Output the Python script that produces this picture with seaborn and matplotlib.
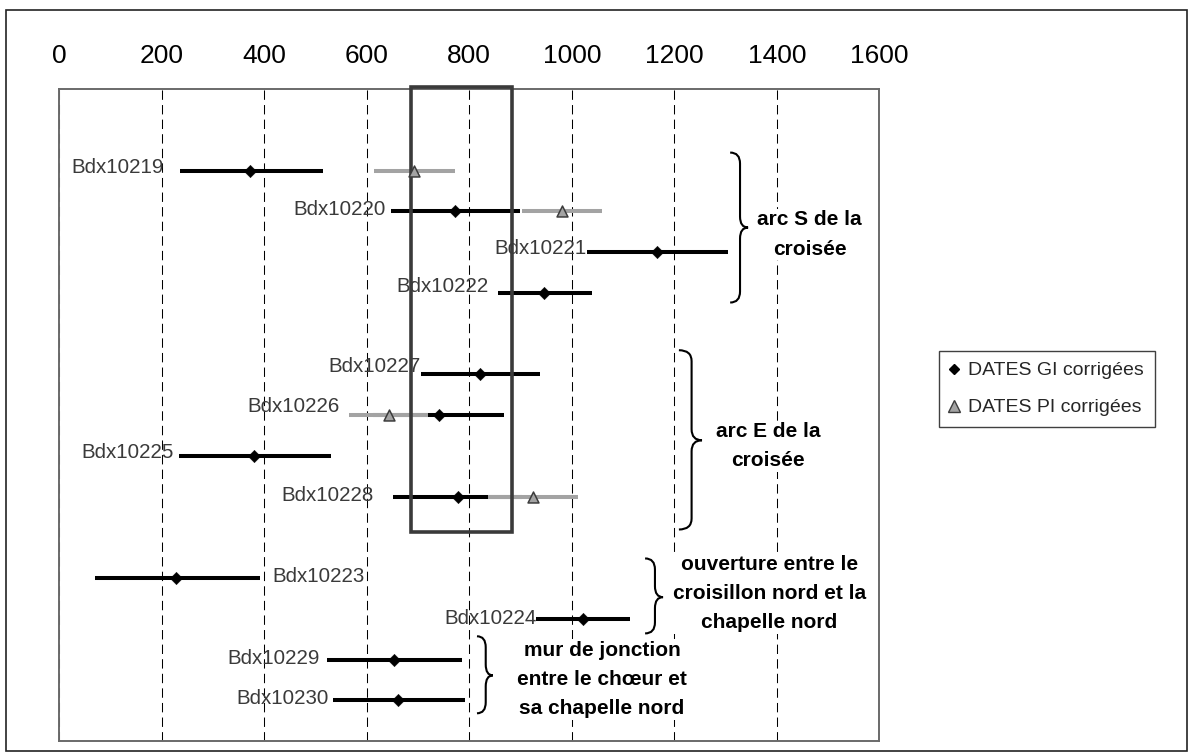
import matplotlib
matplotlib.use("Agg")
import matplotlib.pyplot as plt
import seaborn as sns
import pandas as pd
from matplotlib.path import Path
from matplotlib.patches import PathPatch, Rectangle
from matplotlib.lines import Line2D

# ---------------- data ----------------
samples = ["Bdx10219", "Bdx10220", "Bdx10221", "Bdx10222",
           "Bdx10227", "Bdx10226", "Bdx10225", "Bdx10228",
           "Bdx10223", "Bdx10224", "Bdx10229", "Bdx10230"]
rows = [0, 1, 2, 3, 5, 6, 7, 8, 10, 11, 12, 13]
gi_date = [373, 773, 1166, 946, 821, 740, 379, 777, 228, 1022, 653, 661]
gi_low = [235, 647, 1030, 856, 706, 612, 233, 651, 70, 931, 523, 534]
gi_high = [515, 899, 1305, 1039, 938, 868, 530, 903, 392, 1114, 786, 792]

pi_samples = ["Bdx10219", "Bdx10220", "Bdx10226", "Bdx10228"]
pi_date = [692, 981, 644, 924]
pi_low = [614, 903, 565, 836]
pi_high = [773, 1059, 720, 1012]

window = [687, 884]
xticks = [0, 200, 400, 600, 800, 1000, 1200, 1400, 1600]

group_texts = ["arc S de la\ncroisée",
               "arc E de la\ncroisée",
               "ouverture entre le\ncroisillon nord et la\nchapelle nord",
               "mur de jonction\nentre le chœur et\nsa chapelle nord"]
legend_labels = ["DATES GI corrigées", "DATES PI corrigées"]

# ---------------- layout (positions only) ----------------
label_dx = [-16, -5, -1, -9, -1, -9, -5, -19, 12, 0, -8, -4]
label_dy = [3, 2, 3, 6, 8, 8, 3, 1, 1, 0, 1, 2]
label_right_side = [False] * 8 + [True] + [False] * 3
braces = [(1309, 1344, -0.44, 3.24, 1.40),
          (1209, 1254, 4.41, 8.81, 6.62),
          (1143, 1178, 9.52, 11.36, 10.47),
          (815, 846, 11.43, 13.32, 12.39)]
group_pos = [(1464, 1.57), (1383, 6.77), (1385, 10.38), (1059, 12.49)]

sns.set_theme(style="white")
plt.rcParams["font.family"] = ["Liberation Sans", "DejaVu Sans"]

fig = plt.figure(figsize=(11.9, 7.53), dpi=100)
ax = fig.add_axes([59.3 / 1190, 12 / 753, 820 / 1190, 652 / 753])

row_of = dict(zip(samples, rows))
df_gi = pd.DataFrame({"sample": samples, "row": rows, "date": gi_date,
                      "low": gi_low, "high": gi_high})
df_pi = pd.DataFrame({"sample": pi_samples,
                      "row": [row_of[s] for s in pi_samples],
                      "date": pi_date, "low": pi_low, "high": pi_high})

# range lines
ax.hlines(df_gi["row"], df_gi["low"], df_gi["high"], color="black",
          lw=2.9, zorder=2, capstyle="butt")
ax.hlines(df_pi["row"], df_pi["low"], df_pi["high"], color="#a3a3a3",
          lw=2.9, zorder=3, capstyle="butt")

# points
sns.scatterplot(data=df_gi, x="date", y="row", marker="D", s=40,
                color="black", edgecolor="black", linewidth=0.3,
                zorder=6, ax=ax, legend=False)
sns.scatterplot(data=df_pi, x="date", y="row", marker="^", s=62,
                color="#a3a3a3", edgecolor="#3c3c3c", linewidth=1.1,
                zorder=6, ax=ax, legend=False)

# highlight window
ax.add_patch(Rectangle((window[0], -2.05), window[1] - window[0], 10.93,
                       fill=False, ec="#3a3a3a", lw=2.6, zorder=4,
                       clip_on=False))

ax.set_xlim(0, 1600)
ax.set_ylim(14, -2)
ax.set_xlabel("")
ax.set_ylabel("")
ax.set_xticks(xticks)
ax.set_xticklabels([str(t) for t in xticks])
ax.xaxis.tick_top()
ax.tick_params(axis="x", length=0, pad=15, labelsize=19, labelcolor="black")
ax.set_yticks([])
ax.xaxis.grid(True, color="black", lw=0.75, linestyle=(0, (9, 5)))
ax.set_axisbelow(True)
for sp in ax.spines.values():
    sp.set_color("#6a6a6a")
    sp.set_linewidth(1.4)

# sample labels
for i, s in enumerate(samples):
    if label_right_side[i]:
        xa = gi_high[i]
        ha = "left"
    else:
        xa = gi_low[i]
        if s in pi_samples:
            xa = min(xa, pi_low[pi_samples.index(s)])
        ha = "right"
    ax.annotate(s, (xa, rows[i]), xytext=(label_dx[i], label_dy[i]),
                textcoords="offset pixels", ha=ha, va="center",
                fontsize=14.8, color="#3a3a3a", zorder=7)

# braces
def brace(ax, x0, x2, ytop, ybot, ytip, ry=0.27):
    xm = x0 + (x2 - x0) * 0.55
    verts = [(x0, ytop), (xm, ytop), (xm, ytop + ry),
             (xm, ytip - ry), (xm, ytip), (x2, ytip),
             (xm, ytip), (xm, ytip + ry),
             (xm, ybot - ry), (xm, ybot), (x0, ybot)]
    codes = [Path.MOVETO, Path.CURVE3, Path.CURVE3,
             Path.LINETO, Path.CURVE3, Path.CURVE3,
             Path.CURVE3, Path.CURVE3,
             Path.LINETO, Path.CURVE3, Path.CURVE3]
    ax.add_patch(PathPatch(Path(verts, codes), fill=False, ec="black",
                           lw=1.5, zorder=5))

for b in braces:
    brace(ax, *b)

for txt, (gx, gy) in zip(group_texts, group_pos):
    ax.text(gx, gy, txt, ha="center", va="center", fontsize=15,
            fontweight="bold", linespacing=1.68, color="black", zorder=7,
            bbox=dict(facecolor="white", edgecolor="none", pad=1))

# legend
h1 = Line2D([], [], ls="none", marker="D", ms=5.4, color="black")
h2 = Line2D([], [], ls="none", marker="^", ms=8, markerfacecolor="#a3a3a3",
            markeredgecolor="#3c3c3c", markeredgewidth=1.0)
leg = fig.legend([h1, h2], legend_labels, loc="upper left",
                 bbox_to_anchor=(939 / 1190, 1 - 351 / 753),
                 bbox_transform=fig.transFigure, frameon=True,
                 fancybox=False, edgecolor="#404040", framealpha=1,
                 fontsize=14, handlelength=0.4, handletextpad=0.55,
                 borderpad=0.55, labelspacing=1.0, borderaxespad=0)
leg.get_frame().set_linewidth(1.0)

# outer frame
fig.patches.append(Rectangle((6 / 1190, 2 / 753), 1181 / 1190, 741 / 753,
                             transform=fig.transFigure, fill=False,
                             ec="#222222", lw=1.2))

fig.savefig("out.png", dpi=100)
